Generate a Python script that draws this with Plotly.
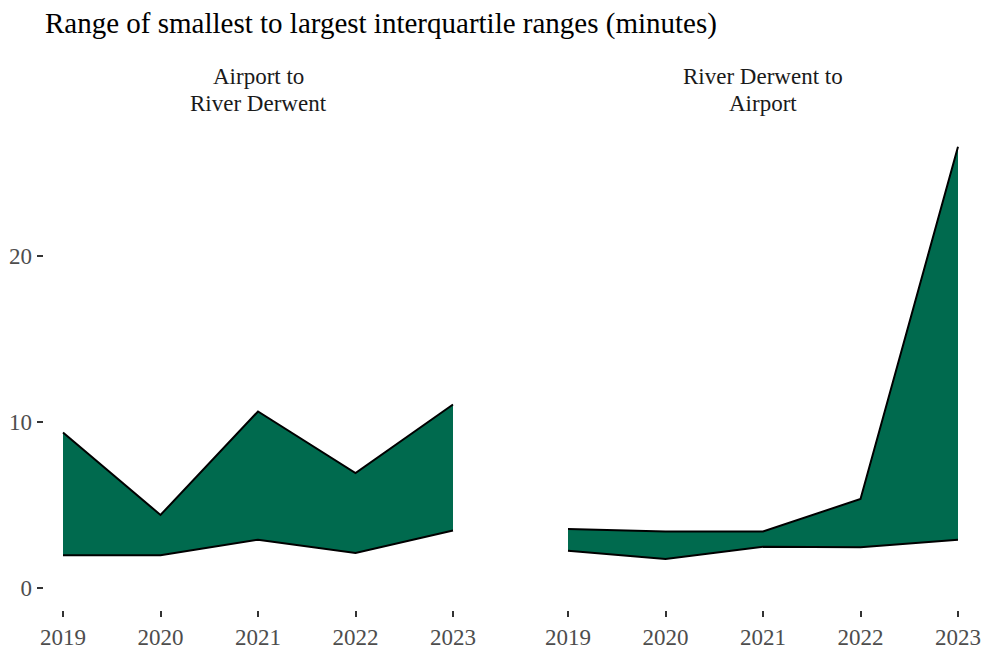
import plotly.graph_objects as go

years = [2019, 2020, 2021, 2022, 2023]
facet_lines = [["Airport to", "River Derwent"], ["River Derwent to", "Airport"]]
a2r_low = [1.96, 1.96, 2.90, 2.10, 3.45]
a2r_high = [9.36, 4.39, 10.62, 6.91, 11.04]
r2a_low = [2.24, 1.74, 2.47, 2.45, 2.90]
r2a_high = [3.55, 3.40, 3.40, 5.35, 26.55]
y_ticks = [0, 10, 20]

FILL = "#006a4e"
FONT = "Liberation Serif"

fig = go.Figure()
for i, (lo, hi) in enumerate([(a2r_low, a2r_high), (r2a_low, r2a_high)]):
    xa = "x" if i == 0 else "x2"
    ya = "y" if i == 0 else "y2"
    fig.add_trace(go.Scatter(x=years, y=lo, mode="lines", line=dict(color="black", width=2),
                             xaxis=xa, yaxis=ya, showlegend=False, hoverinfo="skip"))
    fig.add_trace(go.Scatter(x=years, y=hi, mode="lines", line=dict(color="black", width=2),
                             fill="tonexty", fillcolor=FILL,
                             xaxis=xa, yaxis=ya, showlegend=False, hoverinfo="skip"))

W, H = 985, 653
def xp(px):
    return px / W
def yp(py):
    return 1 - py / H
ydom = [yp(610), yp(124.7)]

axis_common = dict(range=[2018.8, 2023.2], tickvals=years, ticktext=[str(y) for y in years],
                   showgrid=False, zeroline=False, showline=False, automargin=False,
                   ticks="outside", ticklen=6, tickwidth=2, tickcolor="#333333",
                   tickfont=dict(family=FONT, size=23, color="#4d4d4d"))
fig.update_layout(
    width=W, height=H,
    margin=dict(l=0, r=0, t=0, b=0),
    paper_bgcolor="white", plot_bgcolor="white",
    xaxis=dict(domain=[xp(43.5), xp(472.5)], anchor="y", **axis_common),
    xaxis2=dict(domain=[xp(548.5), xp(977.5)], anchor="y2", **axis_common),
    yaxis=dict(domain=ydom, range=[-1.33, 27.88], tickvals=y_ticks, anchor="x",
               showgrid=False, zeroline=False, showline=False, automargin=False,
               ticks="outside", ticklen=6, tickwidth=2, tickcolor="#333333",
               tickfont=dict(family=FONT, size=23, color="#4d4d4d")),
    yaxis2=dict(domain=ydom, range=[-1.33, 27.88], anchor="x2", matches="y", automargin=False,
                showgrid=False, zeroline=False, showline=False, showticklabels=False, ticks=""),
    title=dict(text="Range of smallest to largest interquartile ranges (minutes)",
               x=xp(45), xanchor="left", y=yp(23), yanchor="middle", automargin=False,
               font=dict(family=FONT, size=29, color="black")),
)

centers = [xp((43.5 + 472.5) / 2), xp((548.5 + 977.5) / 2)]
line_y = [76.3, 103.7]
for c, lines in zip(centers, facet_lines):
    for ly, txt in zip(line_y, lines):
        fig.add_annotation(text=txt, x=c, y=yp(ly), xref="paper", yref="paper",
                           xanchor="center", yanchor="middle", showarrow=False,
                           font=dict(family=FONT, size=23, color="#1a1a1a"))

page_css = ("document.documentElement.style.margin='0';"
            "document.documentElement.style.overflow='hidden';"
            "document.body.style.margin='0';"
            "document.body.style.padding='0';"
            "document.body.style.overflow='hidden';")
fig.write_html("out.html", post_script=page_css, config={"displayModeBar": False})
